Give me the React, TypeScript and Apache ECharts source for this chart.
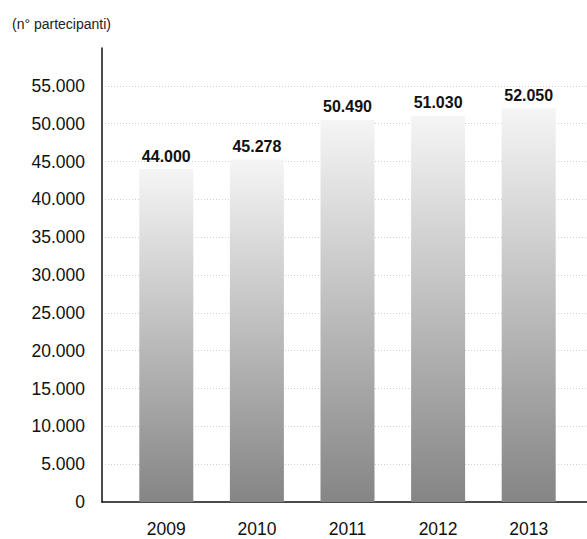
import React, { useEffect, useRef } from "react";
import * as echarts from "echarts";

const years = ["2009", "2010", "2011", "2012", "2013"];
const participants = [44000, 45278, 50490, 51030, 52050];
const yMax = 60000;
const yStep = 5000;
const unitLabel = "(n° partecipanti)";

const fmt = (v: number) => String(v).replace(/\B(?=(\d{3})+(?!\d))/g, ".");

const FONT = "Liberation Sans, Arial, Helvetica, sans-serif";

export default function App() {
  const ref = useRef<HTMLDivElement>(null);
  useEffect(() => {
    document.body.style.margin = "0";
    const chart = echarts.init(ref.current!, null, { renderer: "svg" });
    const gradient = new echarts.graphic.LinearGradient(0, 0, 0, 1, [
      { offset: 0, color: "#f5f5f5" },
      { offset: 1, color: "#858585" },
    ]);
    chart.setOption({
      animation: false,
      textStyle: { fontFamily: FONT },
      title: {
        text: unitLabel,
        left: 7,
        top: 12,
        textStyle: { fontSize: 14, fontWeight: "normal", color: "#222", fontFamily: FONT },
      },
      grid: [
        { left: 102, right: 0, top: 48, bottom: 37 },
        { left: 121, right: 13, top: 48, bottom: 37 },
      ],
      xAxis: [
        {
          type: "category",
          gridIndex: 0,
          data: years,
          axisLine: { show: true, lineStyle: { color: "#111", width: 1.5 } },
          axisTick: { show: false },
          axisLabel: { show: false },
          splitLine: { show: false },
        },
        {
          type: "category",
          gridIndex: 1,
          data: years,
          axisLine: { show: false },
          axisTick: { show: false },
          axisLabel: { color: "#111", fontSize: 17.5, margin: 18, fontFamily: FONT },
        },
      ],
      yAxis: [
        {
          type: "value",
          gridIndex: 0,
          min: 0,
          max: yMax,
          interval: yStep,
          axisLine: { show: true, lineStyle: { color: "#111", width: 1.5 } },
          axisTick: { show: false },
          axisLabel: {
            color: "#111",
            fontSize: 17.5,
            margin: 17,
            fontFamily: FONT,
            showMaxLabel: false,
            formatter: (v: number) => fmt(v),
          },
          splitLine: {
            show: true,
            showMinLine: false,
            showMaxLine: false,
            lineStyle: { color: "#cfcfcf", type: [1, 2], width: 1 },
          },
        },
        {
          type: "value",
          gridIndex: 1,
          min: 0,
          max: yMax,
          interval: yStep,
          axisLine: { show: false },
          axisTick: { show: false },
          axisLabel: { show: false },
          splitLine: { show: false },
        },
      ],
      series: [
        {
          type: "bar",
          xAxisIndex: 1,
          yAxisIndex: 1,
          data: participants,
          barWidth: 54,
          itemStyle: { color: gradient },
          label: {
            show: true,
            position: "top",
            distance: 5,
            color: "#111",
            fontSize: 16,
            fontWeight: "bold",
            fontFamily: FONT,
            formatter: (p: any) => fmt(p.value),
          },
        },
      ],
    });
    return () => chart.dispose();
  }, []);
  return <div ref={ref} style={{ width: 587, height: 539 }} />;
}
